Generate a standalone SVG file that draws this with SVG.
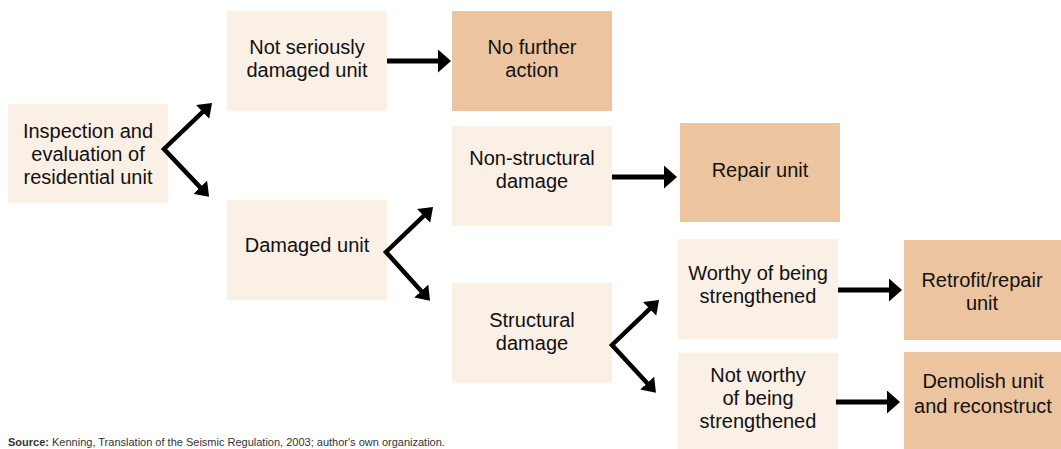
<svg xmlns="http://www.w3.org/2000/svg" width="1061" height="449" viewBox="0 0 1061 449">
<defs>
<style>
.light{fill:#FAF0E6}
.dark{fill:#ECC4A0}
text{font-family:"Liberation Sans",Arial,sans-serif;font-size:20px;fill:#111;text-anchor:middle}
.src{font-size:11px;text-anchor:start;fill:#333}
.conn line,.conn polyline{stroke:#000;stroke-width:5;fill:none}
.conn polyline{stroke-width:4.5;stroke-linejoin:miter;stroke-miterlimit:10}
</style>
<marker id="h" markerUnits="userSpaceOnUse" viewBox="0 0 13 23" refX="0.5" refY="11.5" markerWidth="13" markerHeight="23" orient="auto"><path d="M0,0 L13,11.5 L0,23 z" fill="#000"/></marker>
<marker id="d" markerUnits="userSpaceOnUse" viewBox="0 0 13 19" refX="0.5" refY="9.5" markerWidth="13" markerHeight="19" orient="auto-start-reverse"><path d="M0,0 L13,9.5 L0,19 z" fill="#000"/></marker>
</defs>
<rect width="1061" height="449" fill="#fff"/>

<g id="n-inspection"><rect class="light" x="8" y="104" width="160" height="99"/>
<text x="88" y="138">Inspection and</text><text x="88" y="161">evaluation of</text><text x="88" y="184">residential unit</text></g>

<g id="n-notserious"><rect class="light" x="227" y="11" width="160" height="100"/>
<text x="307" y="54">Not seriously</text><text x="307" y="77">damaged unit</text></g>

<g id="n-nofurther"><rect class="dark" x="452" y="11" width="160" height="100"/>
<text x="532" y="54">No further</text><text x="532" y="77">action</text></g>

<g id="n-damaged"><rect class="light" x="227" y="200" width="160" height="100"/>
<text x="307" y="252">Damaged unit</text></g>

<g id="n-nonstructural"><rect class="light" x="452" y="126" width="160" height="100"/>
<text x="532" y="165">Non-structural</text><text x="532" y="188">damage</text></g>

<g id="n-repair"><rect class="dark" x="680" y="123" width="160" height="99"/>
<text x="760" y="177">Repair unit</text></g>

<g id="n-structural"><rect class="light" x="452" y="283" width="160" height="100"/>
<text x="532" y="327">Structural</text><text x="532" y="350">damage</text></g>

<g id="n-worthy"><rect class="light" x="678" y="239" width="160" height="100"/>
<text x="758" y="280">Worthy of being</text><text x="758" y="303">strengthened</text></g>

<g id="n-retrofit"><rect class="dark" x="904" y="240" width="160" height="100"/>
<text x="982" y="287">Retrofit/repair</text><text x="982" y="310">unit</text></g>

<g id="n-notworthy"><rect class="light" x="678" y="353" width="160" height="100"/>
<text x="758" y="382">Not worthy</text><text x="758" y="405">of being</text><text x="758" y="428">strengthened</text></g>

<g id="n-demolish"><rect class="dark" x="904" y="352" width="160" height="100"/>
<text x="983" y="388">Demolish unit</text><text x="983" y="413">and reconstruct</text></g>

<g id="connectors" class="conn">
<polyline points="203,111.6 164,149 200.5,187.6" marker-start="url(#d)" marker-end="url(#d)"/>
<polyline points="424,215.6 386,252 421.6,291.4" marker-start="url(#d)" marker-end="url(#d)"/>
<polyline points="650,308.6 612,345 647.5,383.5" marker-start="url(#d)" marker-end="url(#d)"/>
<line x1="387" y1="61" x2="438.5" y2="61" marker-end="url(#h)"/>
<line x1="612" y1="177" x2="664.5" y2="177" marker-end="url(#h)"/>
<line x1="838" y1="290" x2="889.5" y2="290" marker-end="url(#h)"/>
<line x1="836" y1="402" x2="887.5" y2="402" marker-end="url(#h)"/>
</g>

<text class="src" x="8" y="446"><tspan font-weight="bold">Source:</tspan> Kenning, Translation of the Seismic Regulation, 2003; author's own organization.</text>
</svg>
